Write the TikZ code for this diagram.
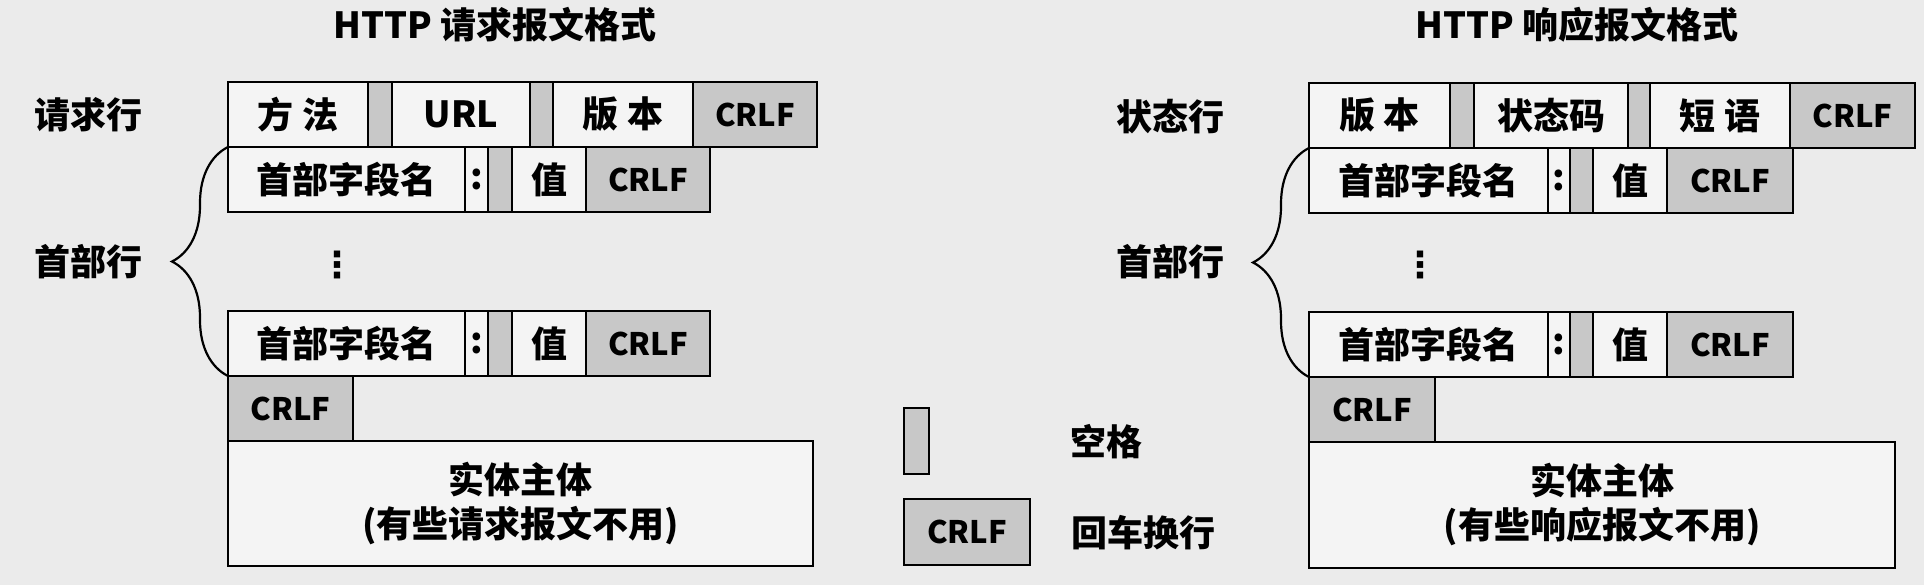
\documentclass[tikz,border=0pt]{standalone}
\usepackage{fontspec}
\setmainfont{Noto Sans CJK SC}
\newfontfamily\dotsfont{DejaVu Sans}
\usepackage{tikz}
\usetikzlibrary{positioning, decorations.pathreplacing}

\definecolor{bgcol}{RGB}{235,235,235}
\definecolor{boxcol}{RGB}{244,244,244}
\definecolor{shadecol}{RGB}{200,200,200}

\begin{document}
\begin{tikzpicture}[
    x=0.5pt, y=-0.5pt,
    every node/.style={font=\fontsize{18}{22}\selectfont\bfseries},
    field/.style={draw, fill=boxcol, line width=1.1pt, minimum height=32.5pt, inner sep=0pt, outer sep=0pt},
    shaded/.style={field, fill=shadecol},
    crlf/.style={shaded, font=\fontsize{15.5}{19}\selectfont\bfseries},
    vdotsmark/.style={font=\fontsize{18}{22}\selectfont\bfseries\dotsfont},
    headbrace/.style={line width=1.1pt, decorate, decoration={brace, amplitude=28pt}}
]
    \useasboundingbox[fill=bgcol] (0,0) rectangle (1924,585);

    % 请求报文
    \begin{scope}[shift={(228,0)}]
        \node (reqtitle) at (267,25) {HTTP 请求报文格式};
        \node (reqline) at (-140,115) {请求行};
        \node (reqhead) at (-140,262) {首部行};
        \node[field, minimum width=70pt, anchor=west] (reqmethod) at (0,114.5) {方 法};
        \node[shaded, minimum width=12pt, right=0pt of reqmethod] (reqsp1) {};
        \node[field, minimum width=69pt, right=0pt of reqsp1] (requrl) {URL};
        \node[shaded, minimum width=11.5pt, right=0pt of requrl] (reqsp2) {};
        \node[field, minimum width=70pt, right=0pt of reqsp2] (reqver) {版 本};
        \node[crlf, minimum width=62pt, right=0pt of reqver] (reqcrlf1) {CRLF};

        \node[field, minimum width=118.5pt, below right=0pt and 0pt of reqmethod.south west] (reqname1) {首部字段名};
        \node[field, minimum width=11.5pt, right=0pt of reqname1] (reqcolon1) {:};
        \node[shaded, minimum width=12pt, right=0pt of reqcolon1] (reqsp3) {};
        \node[field, minimum width=37pt, right=0pt of reqsp3] (reqval1) {值};
        \node[crlf, minimum width=62pt, right=0pt of reqval1] (reqcrlf2) {CRLF};

        \node[vdotsmark] (reqdots) at (109,265) {⋮};

        \node[field, minimum width=118.5pt, below right=49.5pt and 0pt of reqname1.south west] (reqname2) {首部字段名};
        \node[field, minimum width=11.5pt, right=0pt of reqname2] (reqcolon2) {:};
        \node[shaded, minimum width=12pt, right=0pt of reqcolon2] (reqsp4) {};
        \node[field, minimum width=37pt, right=0pt of reqsp4] (reqval2) {值};
        \node[crlf, minimum width=62pt, right=0pt of reqval2] (reqcrlf3) {CRLF};

        \node[crlf, minimum width=62.5pt, below right=0pt and 0pt of reqname2.south west] (reqcrlf4) {CRLF};
        \node[field, minimum width=292.5pt, minimum height=62.5pt, align=center,
              below right=0pt and 0pt of reqcrlf4.south west] (reqbody) {实体主体\\(有些请求报文不用)};

        \draw[headbrace] (reqname2.south west) -- (reqname1.north west);
    \end{scope}

    % 响应报文
    \begin{scope}[shift={(1309,0)}]
        \node (restitle) at (268,25) {HTTP 响应报文格式};
        \node (resline) at (-139,117) {状态行};
        \node (reshead) at (-139,262) {首部行};
        \node[field, minimum width=70.5pt, anchor=west] (resver) at (0,115.5) {版 本};
        \node[shaded, minimum width=12pt, right=0pt of resver] (ressp1) {};
        \node[field, minimum width=77pt, right=0pt of ressp1] (rescode) {状态码};
        \node[shaded, minimum width=11pt, right=0pt of rescode] (ressp2) {};
        \node[field, minimum width=70pt, right=0pt of ressp2] (resphrase) {短 语};
        \node[crlf, minimum width=62.5pt, right=0pt of resphrase] (rescrlf1) {CRLF};

        \node[field, minimum width=119.5pt, below right=0pt and 0pt of resver.south west] (resname1) {首部字段名};
        \node[field, minimum width=11pt, right=0pt of resname1] (rescolon1) {:};
        \node[shaded, minimum width=11.5pt, right=0pt of rescolon1] (ressp3) {};
        \node[field, minimum width=37pt, right=0pt of ressp3] (resval1) {值};
        \node[crlf, minimum width=63pt, right=0pt of resval1] (rescrlf2) {CRLF};

        \node[vdotsmark] (resdots) at (111,265) {⋮};

        \node[field, minimum width=119.5pt, below right=49.5pt and 0pt of resname1.south west] (resname2) {首部字段名};
        \node[field, minimum width=11pt, right=0pt of resname2] (rescolon2) {:};
        \node[shaded, minimum width=11.5pt, right=0pt of rescolon2] (ressp4) {};
        \node[field, minimum width=37pt, right=0pt of ressp4] (resval2) {值};
        \node[crlf, minimum width=63pt, right=0pt of resval2] (rescrlf3) {CRLF};

        \node[crlf, minimum width=63pt, below right=0pt and 0pt of resname2.south west] (rescrlf4) {CRLF};
        \node[field, minimum width=293pt, minimum height=63pt, align=center,
              below right=0pt and 0pt of rescrlf4.south west] (resbody) {实体主体\\(有些响应报文不用)};

        \draw[headbrace] (resname2.south west) -- (resname1.north west);
    \end{scope}

    % 图例
    \node[shaded, minimum width=12.5pt, minimum height=33pt, anchor=west] (legsp) at (904,441) {};
    \node[crlf, minimum width=63pt, minimum height=33pt, anchor=west] (legcrlf) at (904,532) {CRLF};
    \node[anchor=west, inner sep=0pt] (legsptext) at (1070,442) {空格};
    \node[anchor=west, inner sep=0pt] (legcrlftext) at (1071,533) {回车换行};
\end{tikzpicture}
\end{document}
